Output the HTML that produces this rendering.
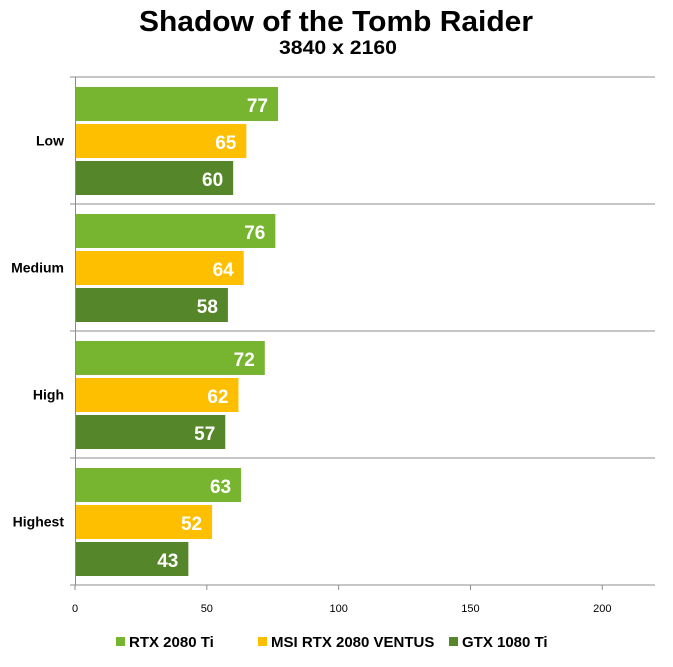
<!DOCTYPE html>
<html><head><meta charset="utf-8"><style>
body{margin:0;background:#fff;}
svg text{font-family:"Liberation Sans",Arial,sans-serif;}
</style></head><body>
<svg id="chart" width="673" height="662" viewBox="0 0 673 662" xmlns="http://www.w3.org/2000/svg">
<text x="336" y="31" text-anchor="middle" font-size="29" font-weight="bold" textLength="394" lengthAdjust="spacingAndGlyphs">Shadow of the Tomb Raider</text>
<text x="338" y="54" text-anchor="middle" font-size="19" font-weight="bold" textLength="118" lengthAdjust="spacingAndGlyphs">3840 x 2160</text>
<g id="grid"></g><g id="bars"></g><g id="axes"></g><g id="legend"></g>
</svg>
<script>
const categories=["Low","Medium","High","Highest"];
const seriesNames=["RTX 2080 Ti","MSI RTX 2080 VENTUS","GTX 1080 Ti"];
const rtx2080ti=[77,76,72,63];
const msi2080=[65,64,62,52];
const gtx1080ti=[60,58,57,43];
const xTicks=[0,50,100,150,200];
const colors=["#77b530","#fdbf00","#558629"];
const NS="http://www.w3.org/2000/svg";
const x0=75,x1=655,xMax=220,yTop=77,band=127;
function xs(v){return x0+v/xMax*(x1-x0);}
function mk(tag,attrs,parent,txt){const e=document.createElementNS(NS,tag);for(const k in attrs)e.setAttribute(k,attrs[k]);if(txt!==undefined)e.textContent=txt;parent.appendChild(e);return e;}
const grid=document.getElementById('grid'),bars=document.getElementById('bars'),axes=document.getElementById('axes'),legend=document.getElementById('legend');
for(let i=0;i<=categories.length;i++){const y=yTop+i*band;const l=mk('line',{x1:70,x2:x1,y1:y,y2:y,stroke:'#8c8c8c','stroke-width':1},grid);

}
const ya=mk('line',{x1:x0+0.5,x2:x0+0.5,y1:yTop,y2:yTop+band*categories.length,stroke:'#8c8c8c'},axes);


const series=[rtx2080ti,msi2080,gtx1080ti];
categories.forEach((c,i)=>{
 const by=yTop+i*band;
 const t=mk('text',{x:64,y:by+band/2+5,'text-anchor':'end','font-size':14,'font-weight':'bold'},axes,c);
 
 
 series.forEach((s,j)=>{
  const y=by+10+j*37;const w=xs(s[i])-x0;
  const r=mk('rect',{x:x0+1,y:y,width:w-1,height:34,fill:colors[j]},bars);
  
  
  const v=mk('text',{x:xs(s[i])-10,y:y+25,'text-anchor':'end','font-size':19,'font-weight':'bold',fill:'#fff'},bars,s[i]);
  
  
 });
});
const yb=yTop+band*categories.length;
xTicks.forEach(v=>{
 const tk=mk('line',{x1:xs(v),x2:xs(v),y1:yb,y2:yb+5,stroke:'#8c8c8c'},axes);
 
 
 const tl=mk('text',{x:xs(v),y:yb+27,'text-anchor':'middle','font-size':11},axes,v);
 
 
});
const lx=[116,258,449];
seriesNames.forEach((n,j)=>{
 const g=mk('g',{},legend);
 
 
 mk('rect',{x:lx[j],y:637,width:9,height:9,fill:colors[j]},g);
 mk('text',{x:lx[j]+13,y:647,'font-size':15,'font-weight':'bold'},g,n);
});
</script>
</body></html>
